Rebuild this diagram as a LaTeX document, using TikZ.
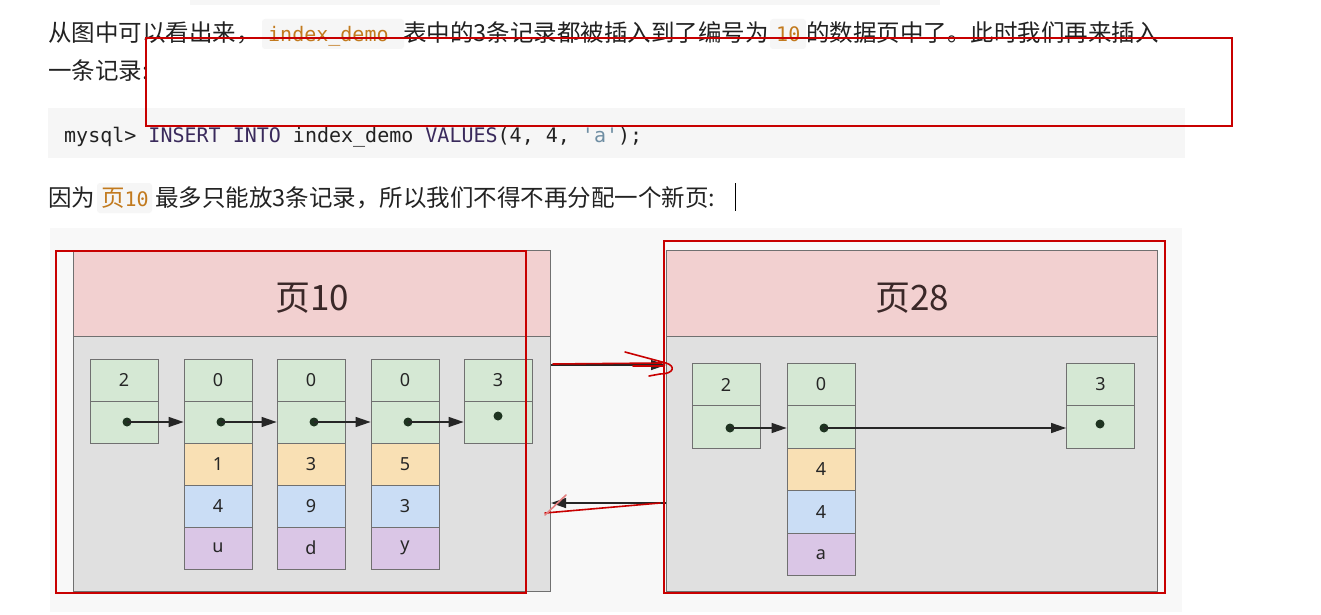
\documentclass[tikz,border=0pt]{standalone}
\usepackage{fontspec}
\setmainfont{Noto Sans CJK SC}
\newfontfamily\monof{DejaVu Sans Mono}
\newfontfamily\cellf{Noto Sans}
\usetikzlibrary{arrows.meta}
\definecolor{hdpink}{HTML}{F2D0D0}
\definecolor{bodygray}{HTML}{E0E0E0}
\definecolor{cgreen}{HTML}{D5E8D4}
\definecolor{corange}{HTML}{F9E0B4}
\definecolor{cblue}{HTML}{CADDF5}
\definecolor{cpurple}{HTML}{DAC6E6}
\definecolor{edge}{HTML}{707070}
\definecolor{annot}{HTML}{C80000}
\definecolor{codebg}{HTML}{F6F6F6}
\definecolor{diagbg}{HTML}{F8F8F8}
\definecolor{inlineor}{HTML}{C27A1E}
\definecolor{kw}{HTML}{3A2A5C}
\definecolor{strc}{HTML}{6F8EA3}
\definecolor{txt}{HTML}{222222}
\definecolor{titlec}{HTML}{3A2828}
\definecolor{dotc}{HTML}{1E3320}
\begin{document}
\begin{tikzpicture}[x=1pt,y=-1pt,
  cell/.style={draw=edge, line width=0.8pt, minimum width=68pt, minimum height=42pt,
    inner sep=0pt, font=\cellf\fontsize{18}{22}\selectfont, text=black!85},
  gcell/.style={cell, fill=cgreen},
  ocell/.style={cell, fill=corange},
  bcell/.style={cell, fill=cblue},
  pcell/.style={cell, fill=cpurple},
  cell28/.style={minimum height=42.5pt},
  dotn/.style={circle, fill=dotc, inner sep=0pt, minimum size=9pt},
  ptr/.style={draw=black!85, line width=1.3pt, -{Triangle[length=15pt,width=10pt]}},
  pghead/.style={draw=edge, line width=1pt, fill=hdpink, minimum height=86pt, anchor=north west,
    inner sep=0pt, text=titlec, font=\fontsize{35}{40}\selectfont, text height=36pt, text depth=2.6pt},
  pgbody/.style={draw=edge, line width=1pt, fill=bodygray, minimum height=255pt, anchor=north west, inner sep=0pt},
  para/.style={anchor=base west, inner sep=0pt, text=txt, font=\fontsize{23.5}{28}\selectfont},
  icode/.style={anchor=base west, inner sep=0pt, text=inlineor, font=\monof\fontsize{20}{24}\selectfont},
  annotbox/.style={draw=annot, line width=2.2pt},
  scrib/.style={draw=annot, line width=1.6pt, line cap=round, line join=round}
]
\useasboundingbox (0,0) rectangle (1321,615);
\fill[white] (0,0) rectangle (1321,615);
% faint bar of previous block
\fill[codebg] (190,0) rectangle (940,5);

% ---------- paragraph 1 ----------
\fill[codebg, rounded corners=3pt] (262,19) rectangle (404,49);
\fill[codebg, rounded corners=3pt] (770,19) rectangle (806,49);
\node[para] (t1a) at (48,42) {从图中可以看出来，};
\node[icode] (t1b) at (268,42) {index\_demo};
\node[para] (t1c) at (403,42) {表中的3条记录都被插入到了编号为};
\node[icode] (t1d) at (776,42) {10};
\node[para] (t1e) at (806,42) {的数据页中了。此时我们再来插入};
\node[para] (t2) at (48,80) {一条记录:};

% ---------- code block ----------
\fill[codebg] (48,108) rectangle (1185,158);
\node[anchor=base west, inner sep=0pt, text=txt, font=\monof\fontsize{20}{24}\selectfont] (code) at (64,142)
  {mysql> \textcolor{kw}{INSERT INTO} index\_demo \textcolor{kw}{VALUES}(4, 4, \textcolor{strc}{\textquotesingle a\textquotesingle});};

% ---------- paragraph 2 ----------
\fill[codebg, rounded corners=3pt] (97,183) rectangle (152,213);
\node[para] (t3a) at (48,206) {因为};
\node[para, text=inlineor] (t3b) at (101,206) {页\monof\fontsize{20}{24}\selectfont 10};
\node[para] (t3c) at (155,206) {最多只能放3条记录，所以我们不得不再分配一个新页:};
\draw[line width=1pt, black] (735,183) -- (735,211);

% ---------- diagram background ----------
\fill[diagbg] (50,228) rectangle (1182,612);

% ---------- page 10 ----------
\node[pgbody, minimum width=477pt] (b10) at (73,336) {};
\node[pghead, minimum width=477pt] (h10) at (73,250) {页10};

\node[gcell] (p1a1) at (124,380) {2};
\node[gcell] (p1a2) at (124,422) {};
\node[gcell] (p1b1) at (218,380) {0};
\node[gcell] (p1b2) at (218,422) {};
\node[ocell] (p1b3) at (218,464) {1};
\node[bcell] (p1b4) at (218,506) {4};
\node[pcell] (p1b5) at (218,548) {u};
\node[gcell] (p1c1) at (311,380) {0};
\node[gcell] (p1c2) at (311,422) {};
\node[ocell] (p1c3) at (311,464) {3};
\node[bcell] (p1c4) at (311,506) {9};
\node[pcell] (p1c5) at (311,548) {d};
\node[gcell] (p1d1) at (405,380) {0};
\node[gcell] (p1d2) at (405,422) {};
\node[ocell] (p1d3) at (405,464) {5};
\node[bcell] (p1d4) at (405,506) {3};
\node[pcell] (p1d5) at (405,548) {y};
\node[gcell] (p1e1) at (498,380) {3};
\node[gcell] (p1e2) at (498,422) {};

\node[dotn] (d1a) at (127,422) {};
\node[dotn] (d1b) at (221,422) {};
\node[dotn] (d1c) at (314,422) {};
\node[dotn] (d1d) at (408,422) {};
\node[dotn] (d1e) at (498,416) {};
\draw[ptr] (d1a.center) -- (p1b2.west);
\draw[ptr] (d1b.center) -- (p1c2.west);
\draw[ptr] (d1c.center) -- (p1d2.west);
\draw[ptr] (d1d.center) -- (p1e2.west);

% ---------- page 28 ----------
\node[pgbody, minimum width=491pt] (b28) at (666,336) {};
\node[pghead, minimum width=491pt] (h28) at (666,250) {页28};

\node[gcell, cell28] (p2a1) at (726,384.5) {2};
\node[gcell, cell28] (p2a2) at (726,427) {};
\node[gcell, cell28] (p2b1) at (821,384.5) {0};
\node[gcell, cell28] (p2b2) at (821,427) {};
\node[ocell, cell28] (p2b3) at (821,469.5) {4};
\node[bcell, cell28] (p2b4) at (821,512) {4};
\node[pcell, cell28] (p2b5) at (821,554.5) {a};
\node[gcell, cell28] (p2c1) at (1100.5,384.5) {3};
\node[gcell, cell28] (p2c2) at (1100.5,427) {};

\node[dotn] (d2a) at (730,428) {};
\node[dotn] (d2b) at (824,428) {};
\node[dotn] (d2c) at (1100,424) {};
\draw[ptr] (d2a.center) -- (p2b2.west |- d2a);
\draw[ptr] (d2b.center) -- (p2c2.west |- d2b);

% ---------- links between pages ----------
\coordinate (ly1) at (0,365);
\coordinate (ly2) at (0,503);
\draw[ptr] (b10.east |- ly1) -- (b28.west |- ly1);
\draw[ptr] (b28.west |- ly2) -- (b10.east |- ly2);

% ---------- red annotations ----------
\draw[annotbox] (146,38) rectangle (1232,126);
\draw[annotbox] (56,251) rectangle (526,593);
\draw[annotbox] (664,241) rectangle (1165,593);
\draw[scrib] (553,364) -- (662,363);
\draw[scrib] (625,352) -- (666,363) .. controls (676,366) and (674,374) .. (660,374) -- (649,376);
\draw[scrib] (633,366) -- (663,366);
\draw[scrib] (660,503) -- (545,513);
\draw[scrib, annot!50] (566,495) -- (545,515);
\end{tikzpicture}
\end{document}
